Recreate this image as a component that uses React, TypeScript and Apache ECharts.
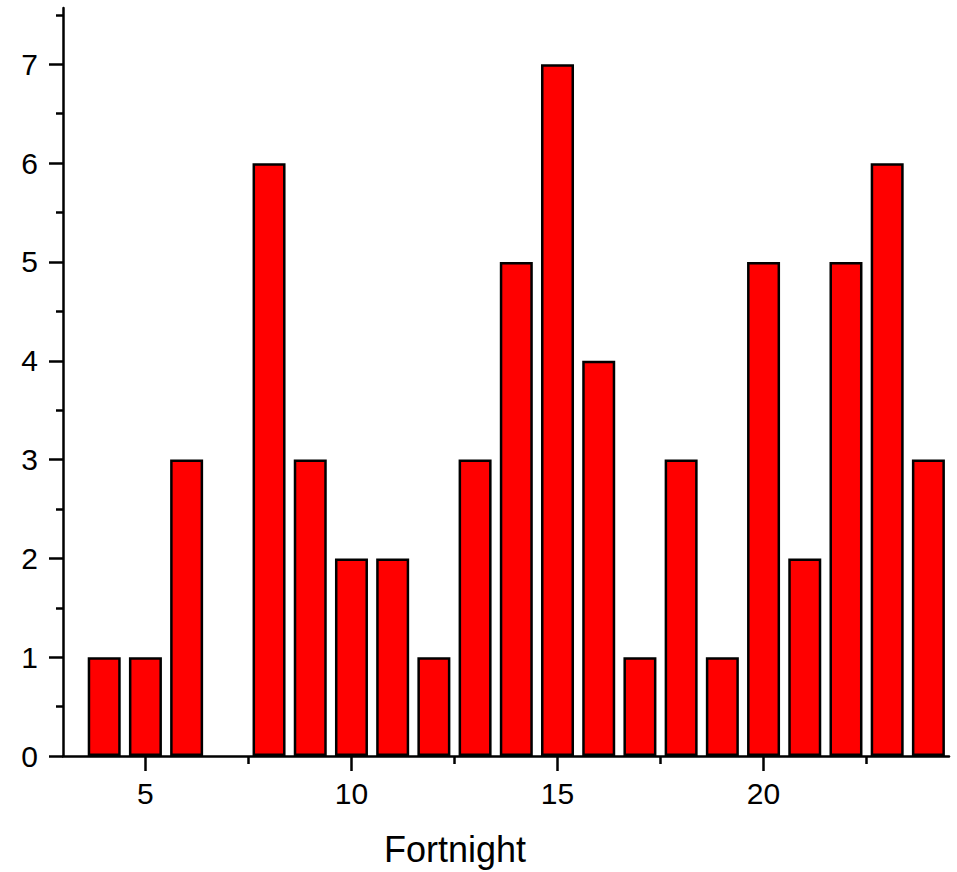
import React, { useEffect, useRef } from "react";
import * as echarts from "echarts";

const fortnights = [4, 5, 6, 7, 8, 9, 10, 11, 12, 13, 14, 15, 16, 17, 18, 19, 20, 21, 22, 23, 24];
const counts: (number | null)[] = [1, 1, 3, null, 6, 3, 2, 2, 1, 3, 5, 7, 4, 1, 3, 1, 5, 2, 5, 6, 3];
const xMajorTicks = [5, 10, 15, 20];
const xMinorTicks = [7.5, 12.5, 17.5, 22.5];
const yMajorTicks = [0, 1, 2, 3, 4, 5, 6, 7];
const yMinorTicks = [0.5, 1.5, 2.5, 3.5, 4.5, 5.5, 6.5, 7.5];
const xRange = [3, 24.5];
const yRange = [0, 7.57];

export default function App() {
  const ref = useRef<HTMLDivElement>(null);
  useEffect(() => {
    document.body.style.margin = "0";
    const chart = echarts.init(ref.current!, null, { renderer: "svg" });
    const font = "'Liberation Sans', Arial, sans-serif";
    const data = fortnights
      .map((f, i) => [f, counts[i]])
      .filter((d) => d[1] !== null);
    chart.setOption({
      animation: false,
      backgroundColor: "#ffffff",
      grid: { left: 63, right: 8, top: 8, bottom: 113, containLabel: false },
      xAxis: [
        {
          type: "value",
          min: xRange[0],
          max: xRange[1],
          position: "bottom",
          axisLine: { show: true, onZero: false, lineStyle: { color: "#000", width: 2.5 } },
          axisTick: { show: true, customValues: xMajorTicks, length: 15, lineStyle: { color: "#000", width: 2.5 } },
          axisLabel: { customValues: xMajorTicks, fontSize: 30, color: "#000", fontFamily: font, margin: 22 },
          splitLine: { show: false },
          name: "Fortnight",
          nameLocation: "middle",
          nameGap: 75,
          nameTextStyle: { fontSize: 36, color: "#000", fontFamily: font, padding: [0, 102, 0, 0] },
        },
        {
          type: "value",
          min: xRange[0],
          max: xRange[1],
          position: "bottom",
          axisLine: { show: false, onZero: false },
          axisTick: { show: true, customValues: xMinorTicks, length: 8, lineStyle: { color: "#000", width: 2.5 } },
          axisLabel: { show: false },
          splitLine: { show: false },
        },
      ],
      yAxis: [
        {
          type: "value",
          min: yRange[0],
          max: yRange[1],
          position: "left",
          axisLine: { show: true, onZero: false, lineStyle: { color: "#000", width: 2.5 } },
          axisTick: { show: true, customValues: yMajorTicks, length: 14, lineStyle: { color: "#000", width: 2.5 } },
          axisLabel: { customValues: yMajorTicks, fontSize: 30, color: "#000", fontFamily: font, margin: 25 },
          splitLine: { show: false },
        },
        {
          type: "value",
          min: yRange[0],
          max: yRange[1],
          position: "left",
          axisLine: { show: false, onZero: false },
          axisTick: { show: true, customValues: yMinorTicks, length: 7, lineStyle: { color: "#000", width: 2.5 } },
          axisLabel: { show: false },
          splitLine: { show: false },
        },
      ],
      series: [
        {
          type: "bar",
          xAxisIndex: 0,
          yAxisIndex: 0,
          data,
          barWidth: 33,
          itemStyle: { color: "#ff0000", borderColor: "#000", borderWidth: 2.5 },
        },
      ],
    });
    return () => chart.dispose();
  }, []);
  return <div ref={ref} style={{ width: 957, height: 872 }} />;
}
